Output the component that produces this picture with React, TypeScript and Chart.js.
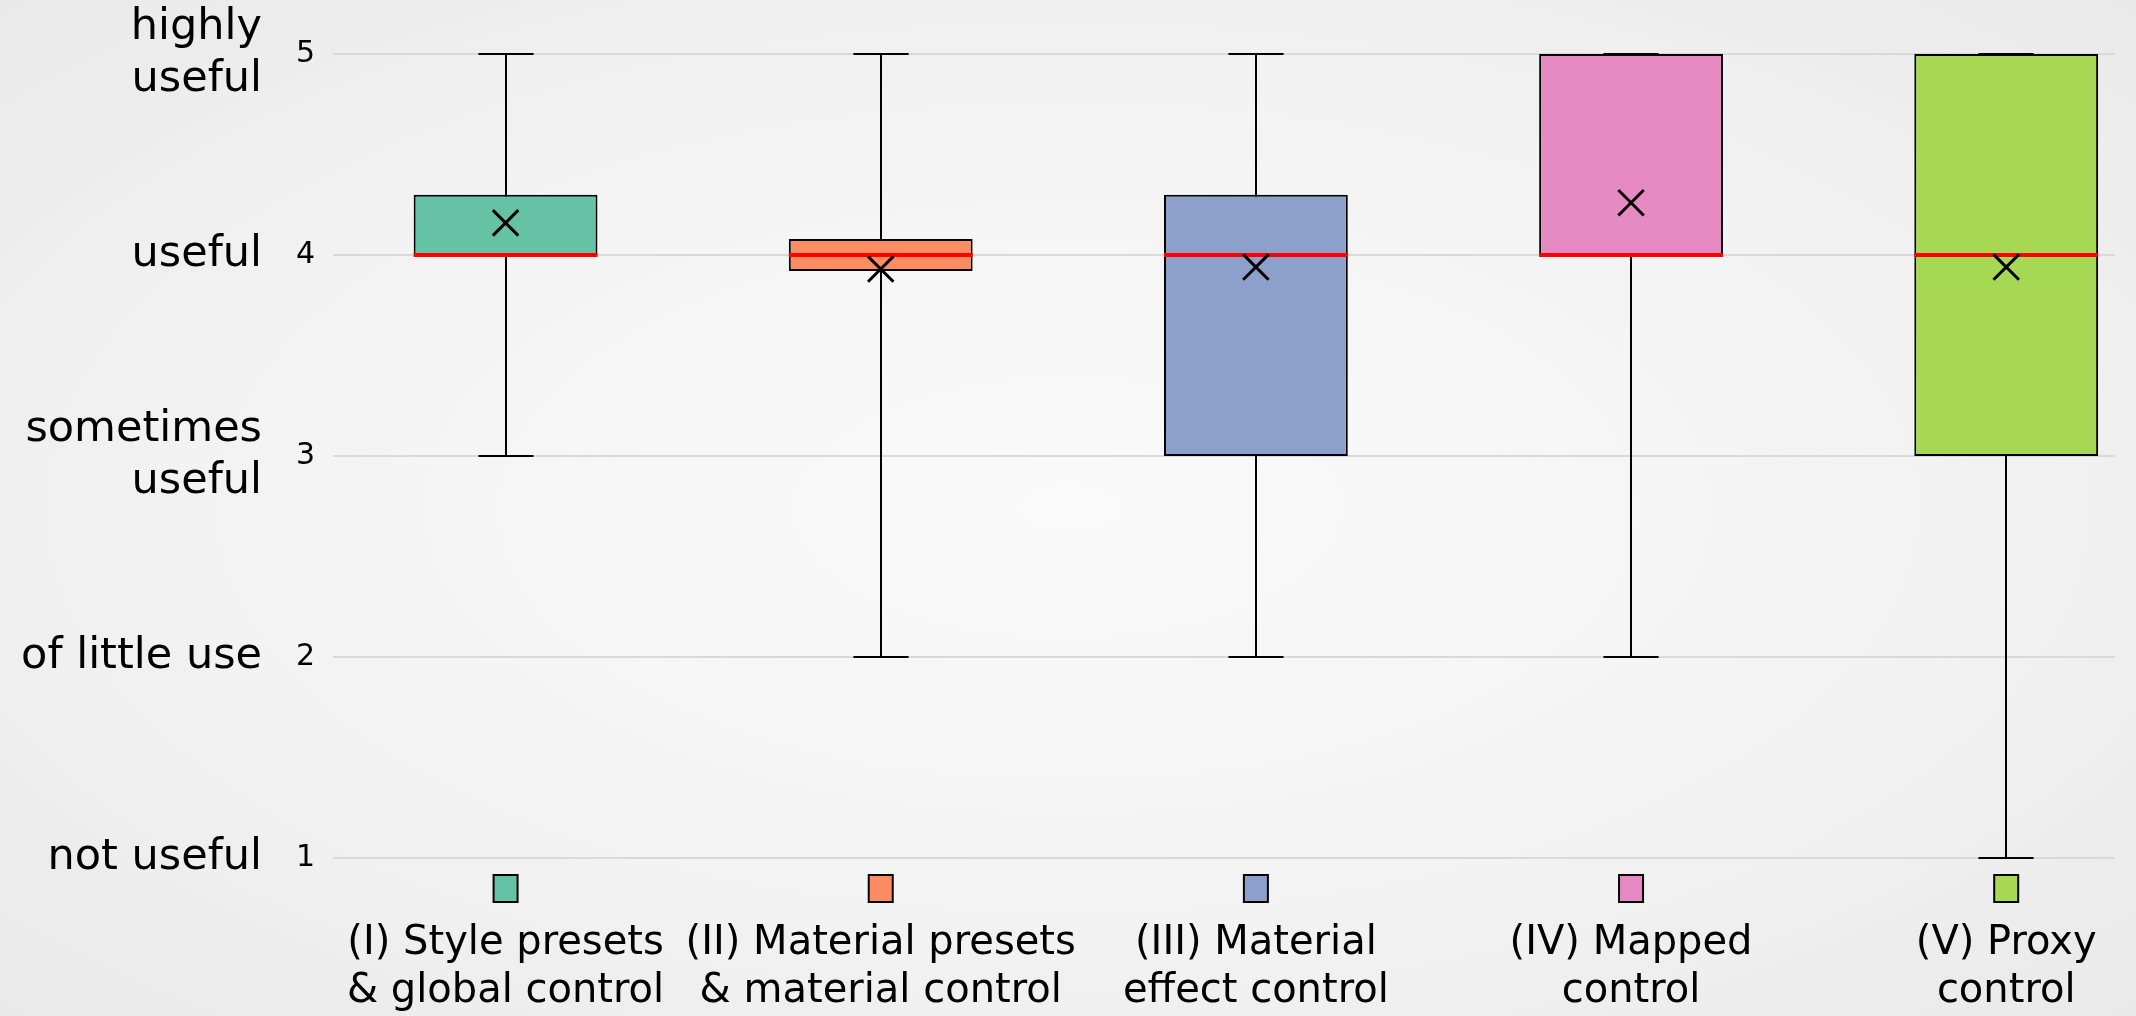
import React, { useEffect, useRef } from "react";
import { Chart, registerables } from "chart.js";

Chart.register(...registerables);

// ---- data ----
const categories: string[][] = [
  ["(I) Style presets", "& global control"],
  ["(II) Material presets", "& material control"],
  ["(III) Material", "effect control"],
  ["(IV) Mapped", "control"],
  ["(V) Proxy", "control"],
];
const whiskerLow = [3, 2, 2, 2, 1];
const quartile1 = [4, 3.92, 3, 4, 3];
const medians = [4, 4, 4, 4, 4];
const quartile3 = [4.3, 4.08, 4.3, 5, 5];
const whiskerHigh = [5, 5, 5, 5, 5];
const means = [4.16, 3.93, 3.94, 4.26, 3.94];
const boxColors = ["#66c2a5", "#fc8d62", "#8da0cb", "#e78ac3", "#a6d854"];
const yTickValues = [1, 2, 3, 4, 5];
const usefulnessLabels: (string | string[])[] = [
  "not useful",
  "of little use",
  ["sometimes", "useful"],
  "useful",
  ["highly", "useful"],
];

const FONT = "'DejaVu Sans', sans-serif";

const boxPlugin = {
  id: "boxWhiskers",
  beforeDatasetsDraw(chart: any) {
    const meta = chart.getDatasetMeta(0);
    const y = chart.scales.y;
    const ctx = chart.ctx;
    ctx.save();
    ctx.strokeStyle = "#000";
    ctx.lineWidth = 2;
    meta.data.forEach((bar: any, i: number) => {
      const x = Math.round(bar.x);
      const half = bar.width * 0.15;
      const yl = y.getPixelForValue(whiskerLow[i]);
      const yh = y.getPixelForValue(whiskerHigh[i]);
      ctx.beginPath();
      ctx.moveTo(x, yl);
      ctx.lineTo(x, yh);
      ctx.moveTo(x - half, yl);
      ctx.lineTo(x + half, yl);
      ctx.moveTo(x - half, yh);
      ctx.lineTo(x + half, yh);
      ctx.stroke();
    });
    ctx.restore();
  },
  afterDatasetDraw(chart: any, args: any) {
    if (args.index !== 0) return;
    const meta = chart.getDatasetMeta(0);
    const y = chart.scales.y;
    const ctx = chart.ctx;
    ctx.save();
    ctx.strokeStyle = "#ff0000";
    ctx.lineWidth = 4;
    meta.data.forEach((bar: any, i: number) => {
      const ym = y.getPixelForValue(medians[i]);
      ctx.beginPath();
      ctx.moveTo(bar.x - bar.width / 2, ym);
      ctx.lineTo(bar.x + bar.width / 2, ym);
      ctx.stroke();
    });
    ctx.restore();
  },
  afterDraw(chart: any) {
    const xs = chart.scales.x;
    const ctx = chart.ctx;
    const top = chart.chartArea.bottom;
    ctx.save();
    categories.forEach((_, i) => {
      const cx = xs.getPixelForValue(i);
      const w = 24;
      const h = 27;
      ctx.fillStyle = boxColors[i];
      ctx.fillRect(cx - w / 2, top + 17, w, h);
      ctx.strokeStyle = "#000";
      ctx.lineWidth = 2;
      ctx.strokeRect(cx - w / 2, top + 17, w, h);
    });
    ctx.restore();
  },
};

export default function App() {
  const ref = useRef<HTMLCanvasElement | null>(null);

  useEffect(() => {
    if (!ref.current) return;
    const chart = new Chart(ref.current, {
      type: "bar",
      data: {
        datasets: [
          {
            type: "bar",
            label: "box",
            data: categories.map((_, i) => ({ x: i, y: [quartile1[i], quartile3[i]] })) as any,
            backgroundColor: boxColors,
            borderColor: "#000",
            borderWidth: 2,
            borderSkipped: false,
            categoryPercentage: 1,
            barPercentage: 0.49,
            order: 1,
            yAxisID: "y",
          },
          {
            type: "scatter",
            label: "mean",
            data: means.map((m, i) => ({ x: i, y: m })),
            pointStyle: "crossRot",
            pointRadius: 18,
            pointBorderWidth: 3,
            borderColor: "#000",
            backgroundColor: "rgba(0,0,0,0)",
            order: 0,
            yAxisID: "y",
          } as any,
        ],
      },
      options: {
        responsive: false,
        animation: false,
        layout: { padding: { top: 54, right: 4, left: 0, bottom: 0 } },
        plugins: {
          legend: { display: false },
          tooltip: { enabled: false },
        },
        scales: {
          x: {
            type: "linear",
            min: -0.46,
            max: 4.29,
            offset: false,
            afterBuildTicks: (s: any) => {
              s.ticks = categories.map((_, i) => ({ value: i }));
            },
            afterFit: (s: any) => {
              s.height = 158;
              s.paddingLeft = 0;
              s.paddingRight = 0;
            },
            grid: { display: false, drawTicks: false },
            border: { display: false },
            ticks: {
              autoSkip: false,
              maxRotation: 0,
              minRotation: 0,
              padding: 62,
              color: "#000",
              font: { family: FONT, size: 40, lineHeight: 1.2 },
              callback: (v: any) => categories[Math.round(Number(v))],
            },
          },
          y: {
            type: "linear",
            position: "left",
            weight: 0,
            min: 1,
            max: 5,
            afterBuildTicks: (s: any) => {
              s.ticks = yTickValues.map((v) => ({ value: v }));
            },
            afterFit: (s: any) => {
              s.width = 58;
              s.paddingTop = 0;
              s.paddingBottom = 0;
            },
            grid: { color: "#d9d9d9", lineWidth: 2, drawTicks: false },
            border: { display: false },
            ticks: {
              padding: 18,
              color: "#000",
              font: { family: FONT, size: 30 },
            },
          },
          yLabels: {
            type: "linear",
            position: "left",
            weight: 1,
            min: 1,
            max: 5,
            afterBuildTicks: (s: any) => {
              s.ticks = yTickValues.map((v) => ({ value: v }));
            },
            afterFit: (s: any) => {
              s.width = 275;
              s.paddingTop = 0;
              s.paddingBottom = 0;
            },
            grid: { display: false, drawTicks: false },
            border: { display: false },
            ticks: {
              padding: 13,
              color: "#000",
              font: { family: FONT, size: 43, lineHeight: 1.21 },
              callback: (v: any) => usefulnessLabels[Math.round(Number(v)) - 1],
            },
          },
        },
      } as any,
      plugins: [boxPlugin],
    });
    return () => chart.destroy();
  }, []);

  return (
    <div
      style={{
        position: "fixed",
        left: 0,
        top: 0,
        width: 2136,
        height: 1016,
        background: "radial-gradient(ellipse at center, #fafafa 0%, #f3f3f3 55%, #e9e9e9 100%)",
      }}
    >
      <canvas ref={ref} width={2136} height={1016} style={{ display: "block" }} />
    </div>
  );
}
